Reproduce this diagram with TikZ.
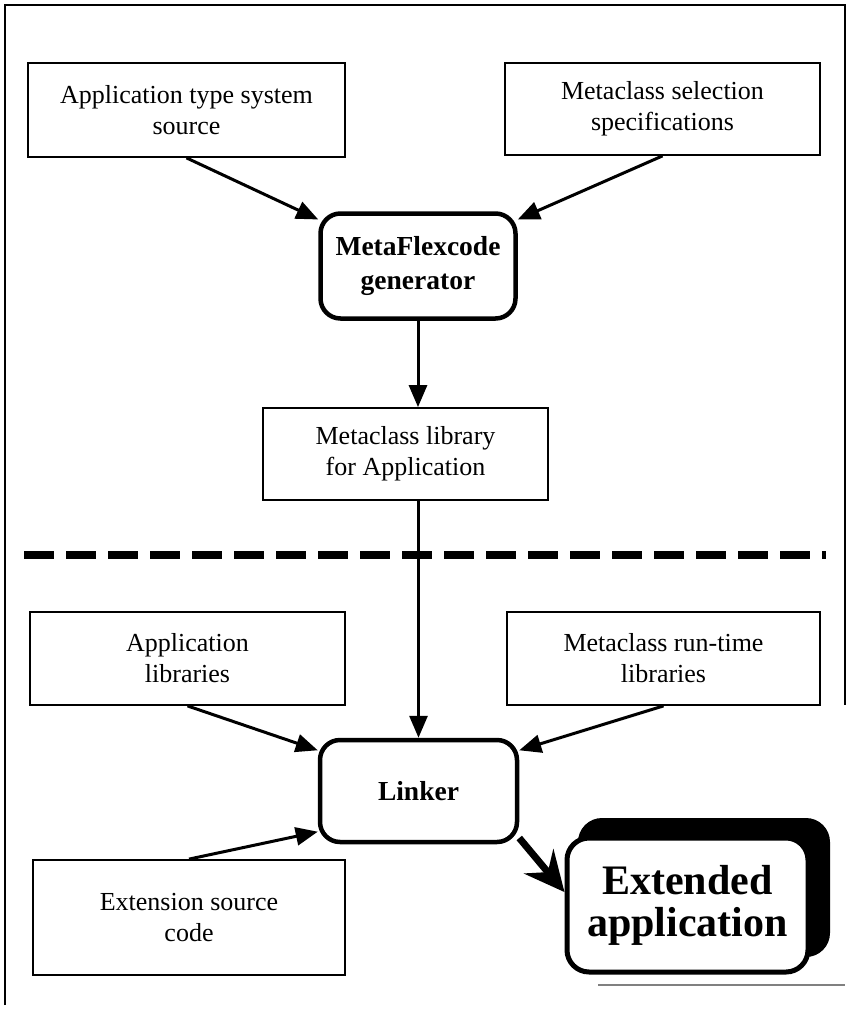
\documentclass[tikz,border=0pt]{standalone}
\usepackage{fontspec}
\setmainfont{Liberation Serif}
\usetikzlibrary{arrows.meta,calc}
\begin{document}
\begin{tikzpicture}[x=1pt,y=-1pt,
  box/.style={draw, line width=1.8pt, align=center, inner sep=0pt,
    font=\fontsize{26}{31}\selectfont},
  rbox/.style={draw, line width=4.5pt, rounded corners=20pt, align=center, inner sep=0pt,
    font=\bfseries\fontsize{27.5}{34}\selectfont},
  bigbox/.style={draw, fill=white, line width=5pt, rounded corners=22pt, align=center, inner sep=0pt,
    font=\bfseries\fontsize{42}{42}\selectfont},
  arr/.style={-{Triangle[length=22pt,width=18pt]}, line width=3pt},
  bigarr/.style={-{Stealth[length=40pt,width=38pt,inset=14pt]}, line width=7pt},
  frame/.style={line width=2.5pt},
  sep/.style={line width=8pt, dash pattern=on 30pt off 12pt}
]
\fill[white] (0,0) rectangle (850,1010);
\useasboundingbox (0,0) rectangle (850,1010);

% frame
\coordinate (f1) at (5,1005);
\coordinate (f2) at (5,5);
\coordinate (f3) at (845,5);
\coordinate (f4) at (845,705);
\draw[frame] (f1) -- (f2) -- (f3) -- (f4);
\coordinate (b1) at (598,985);
\coordinate (b2) at (845,985);
\draw[gray, line width=1.5pt] (b1) -- (b2);

% nodes
\node[box, minimum width=317pt, minimum height=94pt] (A) at (186.5,110) {Application type system\\source};
\node[box, minimum width=315pt, minimum height=92pt] (B) at (662.5,109) {Metaclass selection\\specifications};
\node[rbox, minimum width=195pt, minimum height=105pt] (MF) at (418,266) {MetaFlexcode\\generator};
\node[box, minimum width=285pt, minimum height=92pt] (ML) at (405.5,454) {Metaclass library\\for Application};
\node[box, minimum width=315pt, minimum height=93pt] (C) at (187.5,658.5) {Application\\libraries};
\node[box, minimum width=313pt, minimum height=93pt] (D) at (663.5,658.5) {Metaclass run-time\\libraries};
\node[rbox, minimum width=197pt, minimum height=102pt] (L) at (418.5,791) {Linker};
\node[box, minimum width=312pt, minimum height=115pt] (E) at (189,917.5) {Extension source\\code};

% extended application with shadow
\fill[black, rounded corners=24pt] (578,818) rectangle (830,957);
\node[bigbox, minimum width=241pt, minimum height=134pt] (X) at (687.5,905) {Extended\\application};

% separator
\coordinate (s1) at (24,555);
\coordinate (s2) at (826,555);
\draw[sep] (s1) -- (s2);

% connectors
\draw[arr] (A.south) -- (MF.155);
\draw[arr] (B.south) -- (MF.25);
\draw[arr] (MF.south) -- (MF.south |- ML.north);
\draw[arr] (L.north |- ML.south) -- (L.north);
\draw[arr] (C.south) -- (L.158);
\draw[arr] (D.south) -- (L.22);
\draw[arr] (E.north) -- (L.-158);
\draw[bigarr] (L.-25) -- (X.174);
\end{tikzpicture}
\end{document}
